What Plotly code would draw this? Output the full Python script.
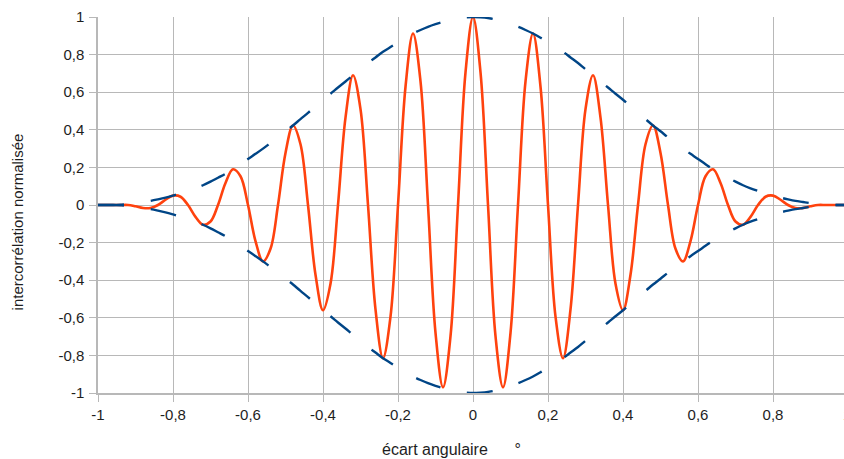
import plotly.graph_objects as go

# x positions (écart angulaire, degrees)
x_vals = [-1.00, -0.98, -0.96, -0.94, -0.92, -0.90, -0.88, -0.86, -0.84, -0.82,
          -0.80, -0.78, -0.76, -0.74, -0.72, -0.70, -0.68, -0.66, -0.64, -0.62,
          -0.60, -0.58, -0.56, -0.54, -0.52, -0.50, -0.48, -0.46, -0.44, -0.42,
          -0.40, -0.38, -0.36, -0.34, -0.32, -0.30, -0.28, -0.26, -0.24, -0.22,
          -0.20, -0.18, -0.16, -0.14, -0.12, -0.10, -0.08, -0.06, -0.04, -0.02,
          0.00, 0.02, 0.04, 0.06, 0.08, 0.10, 0.12, 0.14, 0.16, 0.18,
          0.20, 0.22, 0.24, 0.26, 0.28, 0.30, 0.32, 0.34, 0.36, 0.38,
          0.40, 0.42, 0.44, 0.46, 0.48, 0.50, 0.52, 0.54, 0.56, 0.58,
          0.60, 0.62, 0.64, 0.66, 0.68, 0.70, 0.72, 0.74, 0.76, 0.78,
          0.80, 0.82, 0.84, 0.86, 0.88, 0.90, 0.92, 0.94, 0.96, 0.98, 1.00]

# normalised cross-correlation (orange curve)
correlation = [0, 0, 0, 0, 0, -0.007, -0.016, -0.016, 0, 0.028,
               0.050, 0.044, 0, -0.063, -0.105, -0.088, 0, 0.117, 0.190, 0.153,
               0, -0.192, -0.300, -0.233, 0, 0.277, 0.423, 0.323, 0, -0.371,
               -0.560, -0.419, 0, 0.465, 0.690, 0.510, 0, -0.555, -0.815, -0.594,
               0, 0.629, 0.912, 0.658, 0, -0.680, -0.970, -0.698, 0, 0.706,
               1.000, 0.706, 0, -0.698, -0.970, -0.680, 0, 0.658, 0.912, 0.629,
               0, -0.594, -0.815, -0.555, 0, 0.510, 0.690, 0.465, 0, -0.419,
               -0.560, -0.371, 0, 0.323, 0.423, 0.277, 0, -0.233, -0.300, -0.192,
               0, 0.153, 0.190, 0.117, 0, -0.088, -0.105, -0.063, 0, 0.044,
               0.050, 0.028, 0, -0.016, -0.016, -0.007, 0, 0, 0, 0, 0]

# upper envelope (dashed blue)
envelope_upper = [0, 0, 0, 0.002, 0.005, 0.010, 0.016, 0.022, 0.030, 0.039,
                  0.050, 0.062, 0.075, 0.089, 0.105, 0.124, 0.145, 0.166, 0.190, 0.217,
                  0.245, 0.272, 0.300, 0.330, 0.360, 0.392, 0.423, 0.457, 0.490, 0.525,
                  0.560, 0.592, 0.625, 0.657, 0.690, 0.722, 0.755, 0.785, 0.815, 0.840,
                  0.865, 0.890, 0.912, 0.931, 0.948, 0.962, 0.974, 0.987, 0.994, 0.998,
                  1.000, 0.998, 0.994, 0.987, 0.974, 0.962, 0.948, 0.931, 0.912, 0.890,
                  0.865, 0.840, 0.815, 0.785, 0.755, 0.722, 0.690, 0.657, 0.625, 0.592,
                  0.560, 0.525, 0.490, 0.457, 0.423, 0.392, 0.360, 0.330, 0.300, 0.272,
                  0.245, 0.217, 0.190, 0.166, 0.145, 0.124, 0.105, 0.089, 0.075, 0.062,
                  0.050, 0.039, 0.030, 0.022, 0.016, 0.010, 0.005, 0.002, 0, 0, 0]

# lower envelope (dashed blue)
envelope_lower = [0, 0, 0, -0.002, -0.005, -0.010, -0.016, -0.022, -0.030, -0.039,
                  -0.050, -0.062, -0.075, -0.089, -0.105, -0.124, -0.145, -0.166, -0.190, -0.217,
                  -0.245, -0.272, -0.300, -0.330, -0.360, -0.392, -0.423, -0.457, -0.490, -0.525,
                  -0.560, -0.592, -0.625, -0.657, -0.690, -0.722, -0.755, -0.785, -0.815, -0.840,
                  -0.865, -0.890, -0.912, -0.931, -0.948, -0.962, -0.974, -0.987, -0.994, -0.998,
                  -1.000, -0.998, -0.994, -0.987, -0.974, -0.962, -0.948, -0.931, -0.912, -0.890,
                  -0.865, -0.840, -0.815, -0.785, -0.755, -0.722, -0.690, -0.657, -0.625, -0.592,
                  -0.560, -0.525, -0.490, -0.457, -0.423, -0.392, -0.360, -0.330, -0.300, -0.272,
                  -0.245, -0.217, -0.190, -0.166, -0.145, -0.124, -0.105, -0.089, -0.075, -0.062,
                  -0.050, -0.039, -0.030, -0.022, -0.016, -0.010, -0.005, -0.002, 0, 0, 0]

tick_vals = [-1, -0.8, -0.6, -0.4, -0.2, 0, 0.2, 0.4, 0.6, 0.8, 1]
tick_text = ["-1", "-0,8", "-0,6", "-0,4", "-0,2", "0", "0,2", "0,4", "0,6", "0,8", "1"]

ORANGE = "#ff420e"
BLUE = "#004586"
GRID = "#b8b8b8"
TXT = "#1e1e1e"
FONT = "Liberation Sans, Arial, sans-serif"

fig = go.Figure()
fig.add_trace(go.Scatter(x=x_vals, y=correlation, mode="lines",
                         line=dict(color=ORANGE, width=2.6, shape="spline"),
                         hoverinfo="skip"))
fig.add_trace(go.Scatter(x=x_vals, y=envelope_upper, mode="lines",
                         line=dict(color=BLUE, width=2.4, dash="26px,27px", shape="spline"),
                         hoverinfo="skip"))
fig.add_trace(go.Scatter(x=x_vals, y=envelope_lower, mode="lines",
                         line=dict(color=BLUE, width=2.4, dash="26px,27px", shape="spline"),
                         hoverinfo="skip"))

axis_common = dict(
    tickvals=tick_vals, ticktext=tick_text,
    showgrid=True, gridcolor=GRID, gridwidth=1.2,
    zeroline=True, zerolinecolor=GRID, zerolinewidth=1.2,
    showline=True, linecolor=GRID, linewidth=1.5,
    ticks="outside", ticklen=7, tickcolor=GRID, tickwidth=1.2,
    tickfont=dict(family=FONT, size=15, color=TXT),
    fixedrange=True,
)

fig.update_layout(
    width=844, height=459,
    margin=dict(l=98, r=0, t=17, b=66),
    paper_bgcolor="white", plot_bgcolor="white",
    showlegend=False,
    font=dict(family=FONT, color=TXT),
    xaxis=dict(range=[-1, 0.9893], **axis_common),
    yaxis=dict(range=[-1, 1], ticklabelstandoff=2, **axis_common),
    annotations=[
        dict(text="écart angulaire\u00a0\u00a0\u00a0\u00a0\u00a0\u00a0°",
             xref="paper", yref="paper", x=0.4745, y=0, yshift=-56,
             xanchor="center", yanchor="middle", showarrow=False,
             font=dict(family=FONT, size=16, color=TXT)),
        dict(text="intercorrélation normalisée",
             xref="paper", yref="paper", x=0, xshift=-80.5, y=0.455,
             xanchor="center", yanchor="middle", textangle=-90, showarrow=False,
             font=dict(family=FONT, size=15, color=TXT)),
        dict(text="1", xref="paper", yref="paper", x=1.004, y=0, yshift=-21,
             xanchor="center", yanchor="middle", showarrow=False,
             font=dict(family=FONT, size=15, color=TXT)),
    ],
)

fig.write_html("out.html")
